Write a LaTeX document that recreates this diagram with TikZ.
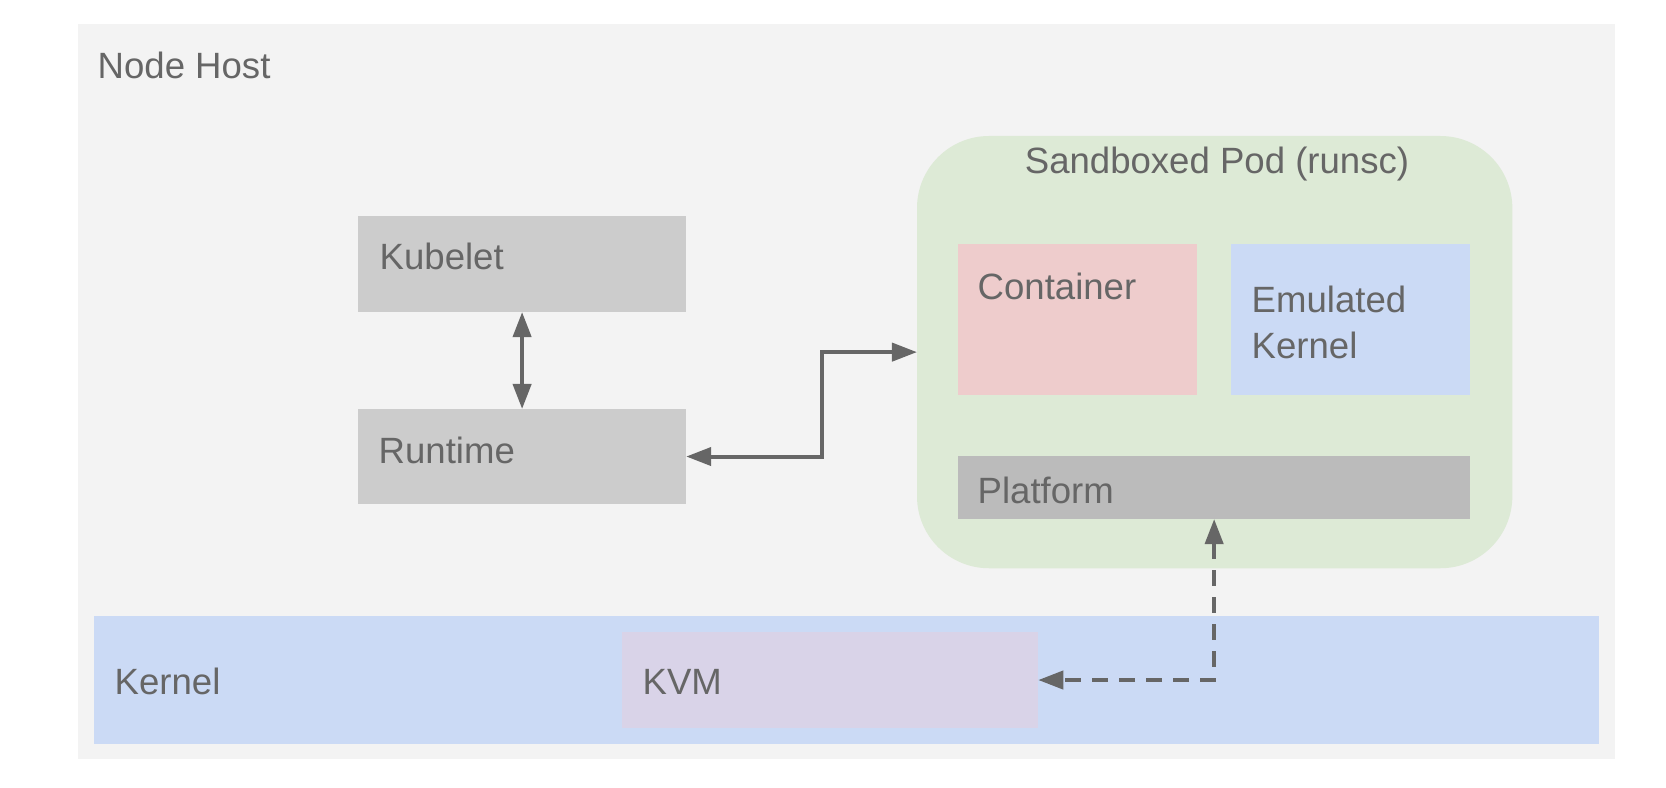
\documentclass[tikz,border=0pt]{standalone}
\usepackage{fontspec}
\setmainfont{Liberation Sans}
\usepackage{xcolor}
\usetikzlibrary{positioning,arrows.meta,calc}

\definecolor{hostgray}{HTML}{F3F3F3}
\definecolor{boxgray}{HTML}{CCCCCC}
\definecolor{platgray}{HTML}{BBBBBB}
\definecolor{kernblue}{HTML}{CBDAF5}
\definecolor{kvmpurple}{HTML}{D9D3E8}
\definecolor{podgreen}{HTML}{DDEAD6}
\definecolor{contred}{HTML}{EECCCC}
\definecolor{inkgray}{HTML}{666666}

\tikzset{
    area/.style={rectangle, draw=none, inner sep=0pt, outer sep=0pt, anchor=north west},
    txt/.style={inner sep=0pt, text=inkgray, font=\fontsize{10.4pt}{12.8pt}\selectfont, anchor=base west},
    link/.style={draw=inkgray, line width=0.04cm, {Triangle[length=0.25cm,width=0.18cm]}-{Triangle[length=0.25cm,width=0.18cm]}}
}

\begin{document}
\begin{tikzpicture}[x=0.01cm, y=-0.01cm]
            \useasboundingbox (0,0) rectangle (1666,788);
            \fill[white] (0,0) rectangle (1666,788);

            % host and kernel band
            \node[area, fill=hostgray, minimum width=15.36cm, minimum height=7.35cm] (host) at (78,24) {};
            \node[area, fill=kernblue, minimum width=15.04cm, minimum height=1.28cm] (kern) at (94,616) {};
            \node[area, fill=kvmpurple, minimum width=4.16cm, minimum height=0.96cm] (kvm) at (622,632) {};

            % kubelet side
            \node[area, fill=boxgray, minimum width=3.28cm, minimum height=0.96cm] (kub) at (358,216) {};
            \node[area, fill=boxgray, minimum width=3.28cm, minimum height=0.95cm] (run) at (358,409) {};

            % sandboxed pod
            \node[area, fill=podgreen, minimum width=5.95cm, minimum height=4.32cm, rounded corners=0.72cm] (pod) at (917,136) {};
            \node[area, fill=contred, minimum width=2.39cm, minimum height=1.51cm] (cont) at (958,244) {};
            \node[area, fill=kernblue, minimum width=2.39cm, minimum height=1.51cm] (emu) at (1231,244) {};
            \node[area, fill=platgray, minimum width=5.12cm, minimum height=0.63cm] (plat) at (958,456) {};

            \node[txt] (hosttxt) at (97,79) {Node Host};
            \node[txt] (kerntxt) at (114,694) {Kernel};
            \node[txt] (kvmtxt) at (642,694) {KVM};
            \node[txt] (kubtxt) at (379,270) {Kubelet};
            \node[txt] (runtxt) at (378,463) {Runtime};
            \node[txt, anchor=base] (podtxt) at (1217,174) {Sandboxed Pod (runsc)};
            \node[txt] (conttxt) at (977,300) {Container};
            \node[txt, align=left] (emutxt) at (1251,358) {Emulated\\Kernel};
            \node[txt] (plattxt) at (977,503) {Platform};

            \draw[link] (kub.south) -- (run.north);
            \draw[link] (run.east) -- ++(136,0) |- (pod.west);
            \draw[link, dash pattern=on 0.16cm off 0.11cm] (plat.south) |- (kvm.east);
\end{tikzpicture}
\end{document}
